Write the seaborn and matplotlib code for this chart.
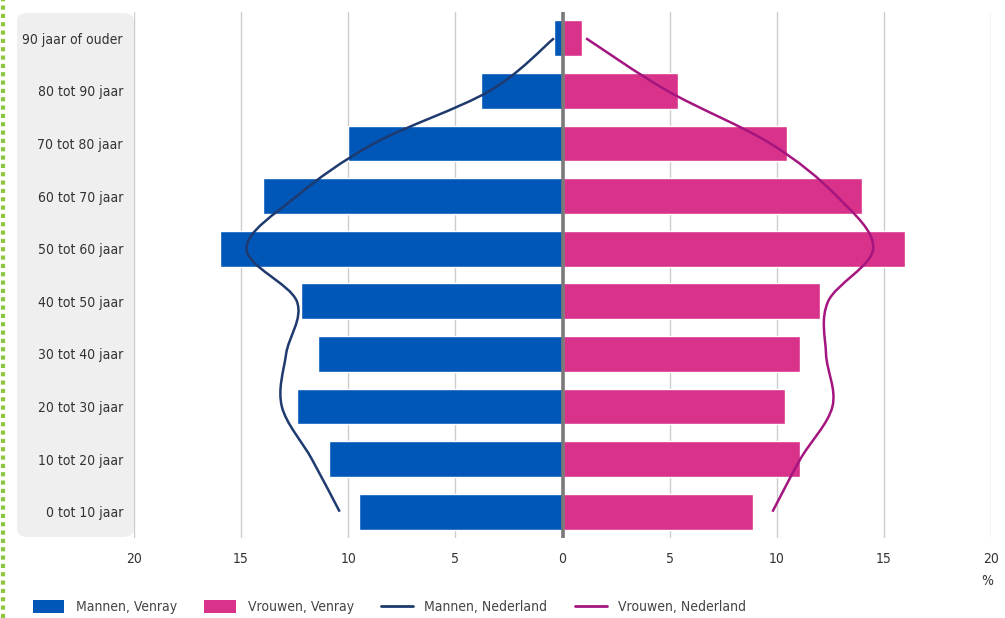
import matplotlib
matplotlib.use('Agg')
import matplotlib.pyplot as plt
import numpy as np
import pandas as pd
import seaborn as sns
from matplotlib.path import Path
from matplotlib.patches import PathPatch, Patch, FancyBboxPatch
from matplotlib.lines import Line2D

# leeftijdsgroepen, van boven naar beneden
groepen = ['90 jaar of ouder', '80 tot 90 jaar', '70 tot 80 jaar', '60 tot 70 jaar',
           '50 tot 60 jaar', '40 tot 50 jaar', '30 tot 40 jaar', '20 tot 30 jaar',
           '10 tot 20 jaar', '0 tot 10 jaar']

mannen_venray = [0.4, 3.8, 10.0, 14.0, 16.0, 12.2, 11.4, 12.4, 10.9, 9.5]
vrouwen_venray = [0.9, 5.4, 10.5, 14.0, 16.0, 12.0, 11.1, 10.4, 11.1, 8.9]
mannen_nl = [0.4, 3.4, 8.8, 12.4, 14.75, 12.4, 12.9, 13.1, 11.7, 10.4]
vrouwen_nl = [1.1, 4.9, 9.7, 12.8, 14.5, 12.4, 12.3, 12.6, 11.1, 9.8]

xticks = [-20, -15, -10, -5, 0, 5, 10, 15, 20]

c_man = '#0057b8'
c_vrouw = '#d9328a'
c_man_nl = '#1e3a6e'
c_vrouw_nl = '#a4157f'

df = pd.DataFrame({'groep': groepen,
                   'man': -np.array(mannen_venray),
                   'vrouw': vrouwen_venray})

sns.set_style('white')
plt.rcParams['font.family'] = ['DejaVu Sans']
plt.rcParams['font.stretch'] = 'condensed'

fig = plt.figure(figsize=(10.05, 6.18), dpi=100)
ax = fig.add_axes([134 / 1005, 1 - 538 / 618, 857 / 1005, 526 / 618])

# grijs vlak achter de labels
panel = FancyBboxPatch((17 / 1005, 1 - 537 / 618), 117 / 1005, 524 / 618,
                       boxstyle='round,pad=0,rounding_size=0.012',
                       transform=fig.transFigure, facecolor='#efefef',
                       edgecolor='none', zorder=-5)
fig.patches.append(panel)

# groene stippellijn links
fig.add_artist(Line2D([3 / 1005, 3 / 1005], [0.0, 1.0], transform=fig.transFigure,
                      color='#8cc63f', lw=3, linestyle=(0, (1, 1))))

sns.barplot(data=df, x='man', y='groep', color=c_man, saturation=1, width=0.68,
            order=groepen, ax=ax, zorder=3)
sns.barplot(data=df, x='vrouw', y='groep', color=c_vrouw, saturation=1, width=0.68,
            order=groepen, ax=ax, zorder=3)
ax.patch.set_alpha(0)


def spline(xs, ys):
    pts = np.column_stack([xs, ys])
    p = np.vstack([pts[0], pts, pts[-1]])
    verts = [tuple(pts[0])]
    codes = [Path.MOVETO]
    for i in range(1, len(p) - 2):
        c1 = p[i] + (p[i + 1] - p[i - 1]) / 6
        c2 = p[i + 1] - (p[i + 2] - p[i]) / 6
        verts += [tuple(c1), tuple(c2), tuple(p[i + 1])]
        codes += [Path.CURVE4] * 3
    return Path(verts, codes)


ypos = np.arange(len(groepen))
ax.add_patch(PathPatch(spline(-np.array(mannen_nl), ypos), fill=False,
                       edgecolor=c_man_nl, lw=1.8, zorder=5))
ax.add_patch(PathPatch(spline(np.array(vrouwen_nl), ypos), fill=False,
                       edgecolor=c_vrouw_nl, lw=1.8, zorder=5))

ax.axvline(0, color='#7a7a7a', lw=2.6, zorder=6)

ax.set_xlim(-20, 20)
ax.set_ylim(9.5, -0.5)
ax.set_xticks(xticks)
ax.set_xticklabels([str(abs(t)) for t in xticks])
ax.grid(axis='x', color='#cccccc', lw=1)
ax.set_axisbelow(True)
for s in ax.spines.values():
    s.set_visible(False)
ax.tick_params(axis='x', length=0, pad=10, labelsize=10, labelcolor='#333333')
ax.tick_params(axis='y', length=0, pad=8, labelsize=10, labelcolor='#333333')
ax.set_xlabel('')
ax.set_ylabel('')

fig.text(987 / 1005, 1 - 581 / 618, '%', ha='center', va='center',
         fontsize=10, color='#333333')

handles = [Patch(facecolor=c_man, edgecolor='none'),
           Patch(facecolor=c_vrouw, edgecolor='none'),
           Line2D([], [], color=c_man_nl, lw=2),
           Line2D([], [], color=c_vrouw_nl, lw=2)]
labels = ['Mannen, Venray', 'Vrouwen, Venray', 'Mannen, Nederland', 'Vrouwen, Nederland']
fig.legend(handles, labels, loc='center left', bbox_to_anchor=(20 / 1005, 1 - 607 / 618),
           ncol=4, frameon=False, fontsize=10, labelcolor='#444444',
           handlelength=2.3, handleheight=1.1, handletextpad=0.8, columnspacing=2.0)

fig.savefig('out.png', dpi=100)
